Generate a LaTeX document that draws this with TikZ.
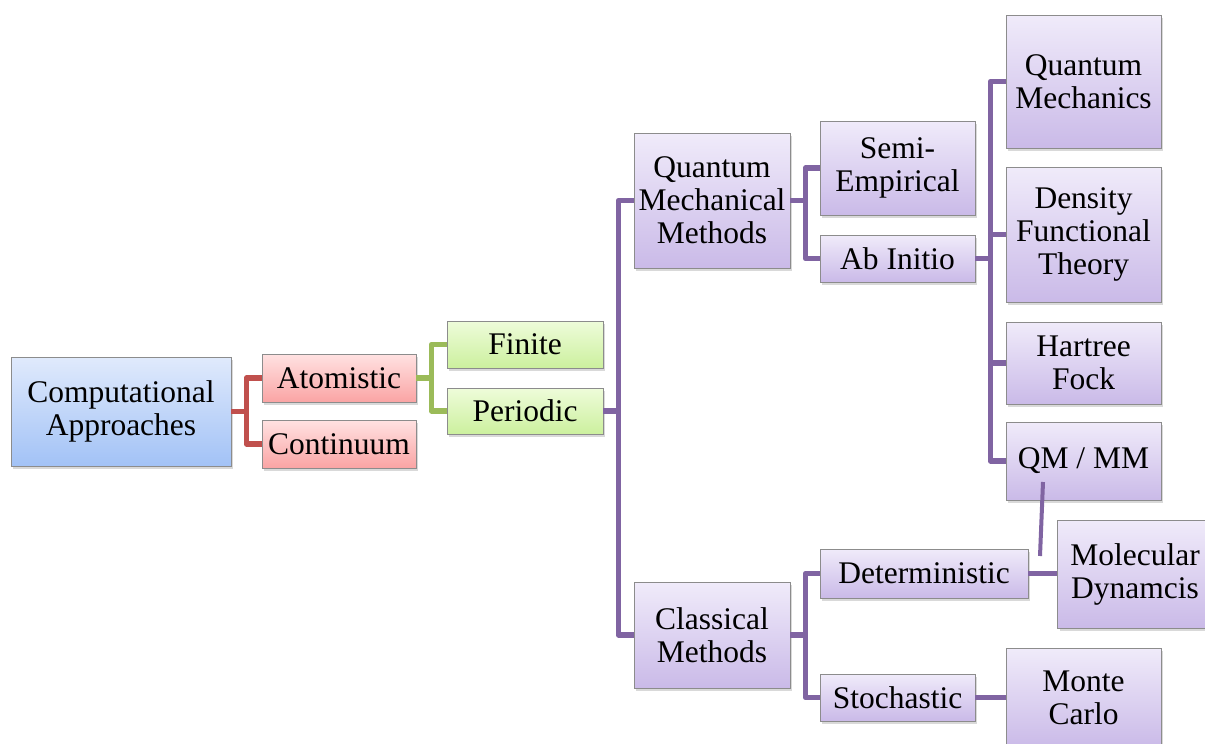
\documentclass[tikz,border=0pt]{standalone}
\usepackage{fontspec}
\setmainfont{Liberation Serif}
\usetikzlibrary{shadows}

\definecolor{blueTop}{RGB}{224,234,252}
\definecolor{blueBot}{RGB}{162,194,246}
\definecolor{redTop}{RGB}{255,226,226}
\definecolor{redBot}{RGB}{250,164,164}
\definecolor{greenTop}{RGB}{238,252,218}
\definecolor{greenBot}{RGB}{204,240,158}
\definecolor{purpleTop}{RGB}{240,235,250}
\definecolor{purpleBot}{RGB}{202,186,232}
\definecolor{redline}{RGB}{192,80,77}
\definecolor{greenline}{RGB}{155,187,89}
\definecolor{purpleline}{RGB}{128,100,162}

\begin{document}
\begin{tikzpicture}[x=1pt, y=-1pt]
  \tikzset{every node/.style={anchor=center, text centered}}
  \tikzset{
    box/.style = {draw=black!45, line width=0.8pt, align=center, inner sep=0pt,
      font=\fontsize{31.5}{33}\selectfont,
      drop shadow={shadow xshift=2pt, shadow yshift=-3pt, opacity=0.3}},
    bluebox/.style   = {box, top color=blueTop, bottom color=blueBot},
    redbox/.style    = {box, top color=redTop, bottom color=redBot},
    greenbox/.style  = {box, top color=greenTop, bottom color=greenBot},
    purplebox/.style = {box, top color=purpleTop, bottom color=purpleBot},
    wh/.style 2 args = {minimum width=#1pt, minimum height=#2pt},
    tie/.style = {line width=5.5pt, line join=round}
  }
  \useasboundingbox (0,0) rectangle (1205,744);

  \node [bluebox, wh={220}{109}]   (ca)    at (121,411.5)   {Computational\\Approaches};
  \node [redbox, wh={154}{48}]     (atom)  at (339,378)     {Atomistic};
  \node [redbox, wh={154}{48}]     (cont)  at (339,444)     {Continuum};
  \node [greenbox, wh={156}{47}]   (fin)   at (525,344.5)   {Finite};
  \node [greenbox, wh={156}{46}]   (per)   at (525,411)     {Periodic};
  \node [purplebox, wh={156}{135}] (qmm)   at (712,200.5)   {Quantum\\Mechanical\\Methods};
  \node [purplebox, wh={156}{106}] (clm)   at (712,635)     {Classical\\Methods};
  \node [purplebox, wh={155}{94}]  (semi)  at (897.5,168)   {Semi-\\Empirical};
  \node [purplebox, wh={155}{47}]  (abin)  at (897.5,258.5) {Ab Initio};
  \node [purplebox, wh={155}{133}] (qmech) at (1083.5,81.5) {Quantum\\Mechanics};
  \node [purplebox, wh={155}{135}] (dft)   at (1083.5,234.5) {Density\\Functional\\Theory};
  \node [purplebox, wh={155}{82}]  (hf)    at (1083.5,363)  {Hartree\\Fock};
  \node [purplebox, wh={155}{78}]  (qmmm)  at (1083.5,461)  {QM / MM};
  \node [purplebox, wh={208}{49}]  (det)   at (924,573.5)   {Deterministic};
  \node [purplebox, wh={155}{47}]  (sto)   at (897.5,697.5) {Stochastic};
  \node [purplebox, wh={155}{108}] (md)    at (1135,574)    {Molecular\\Dynamcis};
  \node [purplebox, wh={155}{100}] (mc)    at (1083.5,698)  {Monte\\Carlo};

  \foreach \a/\b/\c in {ca/atom/redline, ca/cont/redline,
      atom/fin/greenline, atom/per/greenline,
      per/qmm/purpleline, per/clm/purpleline,
      qmm/semi/purpleline, qmm/abin/purpleline,
      abin/qmech/purpleline, abin/dft/purpleline, abin/hf/purpleline, abin/qmmm/purpleline,
      clm/det/purpleline, clm/sto/purpleline} {
    \draw [tie, draw=\c] (\a.east) -- ++(15,0) |- (\b.west);
  }
  \draw [tie, draw=purpleline] (det.east) -- (det.east -| md.west);
  \draw [tie, draw=purpleline] (sto.east) -- (sto.east -| mc.west);

  \coordinate (qmtail) at (1043,482);
  \coordinate (mdtail) at (1040,556);
  \draw [tie, line width=4pt, draw=purpleline] (qmtail) -- (mdtail);
\end{tikzpicture}
\end{document}
